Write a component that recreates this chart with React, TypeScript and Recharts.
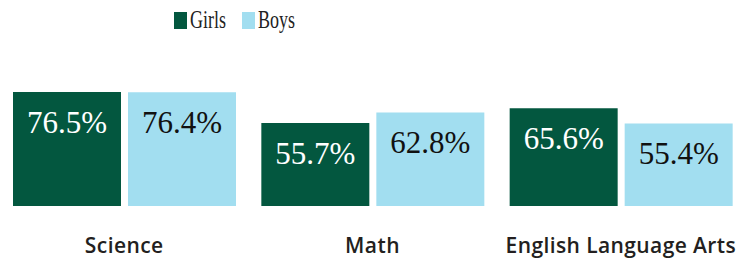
import React from 'react';
import { BarChart, Bar, XAxis, YAxis, LabelList } from 'recharts';

const subjects = ['Science', 'Math', 'English Language Arts'];
const girls = [76.5, 55.7, 65.6];
const boys = [76.4, 62.8, 55.4];

const series = [
  { key: 'girls', name: 'Girls', color: '#03573F', labelColor: '#FFFFFF', textWidth: 35 },
  { key: 'boys', name: 'Boys', color: '#A2DEF0', labelColor: '#111111', textWidth: 36 },
];

const data = subjects.map((subject, i) => ({
  subject,
  girls: girls[i],
  boys: boys[i],
}));

const serif = '"Liberation Serif", "DejaVu Serif", serif';
const sans = '"Open Sans", "Noto Sans", sans-serif';

const makeLabel = (fill: string) => (props: any) => {
  const { x, y, width, value } = props;
  return (
    <text
      x={x + width / 2}
      y={y + 30}
      fill={fill}
      textAnchor="middle"
      dominantBaseline="central"
      fontFamily={serif}
      fontSize={31}
    >
      {`${Number(value).toFixed(1)}%`}
    </text>
  );
};

const SubjectTick = (props: any) => {
  const { x, y, payload } = props;
  return (
    <text
      x={x}
      y={y}
      dy={31}
      textAnchor="middle"
      dominantBaseline="central"
      fontFamily={sans}
      fontWeight={600}
      fontSize={21}
      letterSpacing={0.4}
      fill="#231F20"
    >
      {payload.value}
    </text>
  );
};

export default function App() {
  return (
    <div style={{ position: 'absolute', left: 0, top: 0, width: 753, height: 261, background: '#fff' }}>
      <div
        style={{
          position: 'absolute',
          left: 174,
          top: 8,
          display: 'flex',
          alignItems: 'center',
          fontFamily: serif,
          fontSize: 25,
          color: '#222',
          lineHeight: '24px',
        }}
      >
        {series.map((s) => (
          <div key={s.key} style={{ display: 'flex', alignItems: 'center', marginRight: 17 }}>
            <span style={{ display: 'inline-block', width: 13, height: 17, background: s.color, marginRight: 3 }} />
            <span style={{ display: 'inline-block', width: s.textWidth, whiteSpace: 'nowrap' }}>
              <span style={{ display: 'inline-block', transform: 'scaleX(0.72)', transformOrigin: 'left center' }}>
                {s.name}
              </span>
            </span>
          </div>
        ))}
      </div>
      <BarChart
        width={753}
        height={261}
        data={data}
        margin={{ top: 57, right: 8, bottom: 0, left: 0 }}
        barCategoryGap={13}
        barGap={7}
      >
        <XAxis
          dataKey="subject"
          axisLine={false}
          tickLine={false}
          height={55}
          tick={<SubjectTick />}
          interval={0}
        />
        <YAxis hide domain={[0, 100]} />
        {series.map((s) => (
          <Bar key={s.key} dataKey={s.key} name={s.name} fill={s.color} isAnimationActive={false}>
            <LabelList dataKey={s.key} content={makeLabel(s.labelColor)} />
          </Bar>
        ))}
      </BarChart>
    </div>
  );
}
